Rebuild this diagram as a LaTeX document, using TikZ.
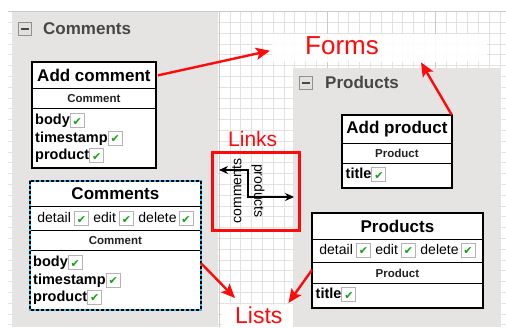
\documentclass[tikz,border=0pt]{standalone}
\usepackage{fontspec}
\setmainfont{Liberation Sans}
\newfontfamily\symfont{DejaVu Sans}
\usetikzlibrary{arrows.meta}

\definecolor{panelgray}{HTML}{E6E3E3}
\definecolor{gridminor}{HTML}{E2E2E2}
\definecolor{gridmajor}{HTML}{CACACA}
\definecolor{boxgray}{HTML}{B4B4B4}
\definecolor{okgreen}{HTML}{13A313}
\definecolor{paneltext}{HTML}{474747}
\definecolor{selcyan}{HTML}{29B6F2}
\definecolor{alertred}{HTML}{FF0A0A}

% checkbox with a green tick
\newcommand\chk{\raisebox{-2.5pt}{\setlength\fboxsep{0pt}\setlength\fboxrule{1pt}%
  \fcolorbox{boxgray}{white}{\makebox[13pt][c]{\rule{0pt}{13pt}%
  \raisebox{2pt}{\textcolor{okgreen}{\symfont\fontsize{11}{11}\selectfont ✔}}}}}}

\newcommand\ttlfont{\fontsize{17}{20}\selectfont\bfseries}
\newcommand\subfont{\fontsize{11.5}{13}\selectfont\bfseries\color[HTML]{222222}}
\newcommand\fldfont{\fontsize{14.5}{17}\selectfont\bfseries}
\newcommand\actfont{\fontsize{14}{17}\selectfont}

\tikzset{
  cell/.style={draw=black, line width=0.8pt, fill=white, inner sep=0pt, anchor=north west},
  frame/.style={draw=black, line width=1.8pt},
  fld/.style={anchor=base west, inner sep=0pt, font=\fldfont},
  act/.style={anchor=base, inner sep=0pt, font=\actfont},
  panel/.style={fill=panelgray, draw=none},
  paneltitle/.style={anchor=base west, inner sep=0pt, text=paneltext,
    font=\fontsize{17}{20}\selectfont\bfseries},
  minusbox/.style={draw=boxgray!80!black, fill=white!88!black, line width=0.8pt,
    minimum size=13pt, inner sep=0pt},
  redarrow/.style={draw=alertred, line width=2.4pt,
    -{Stealth[length=14pt, width=12pt, inset=3pt]}},
  linkarrow/.style={draw=black, line width=1.2pt,
    {Stealth[length=9pt, width=8pt]}-{Stealth[length=9pt, width=8pt]}},
  redlabel/.style={text=alertred, inner sep=0pt, anchor=base west},
}

\begin{document}
\begin{tikzpicture}[x=1pt, y=-1pt]
\useasboundingbox (0,0) rectangle (506,327);
\fill[white] (0,0) rectangle (506,327);

% background grid
\foreach \i in {1,...,46} {
  \draw[gridminor, line width=0.5pt] ({3+\i*10.8},11.5) -- ({3+\i*10.8},327);
}
\foreach \j in {0,...,29} {
  \draw[gridminor, line width=0.5pt] (8,{11.5+\j*10.8}) -- (506,{11.5+\j*10.8});
}
\foreach \i in {10,20,30,40} {
  \draw[gridmajor, line width=0.5pt] ({3+\i*10.8},11.5) -- ({3+\i*10.8},327);
}
\draw[gridmajor, line width=0.5pt] (8,11.5) -- (506,11.5);

% swimlane panels
\fill[panel] (12,12) rectangle (218,327);
\fill[panel] (293,68) rectangle (501,327);

\node[minusbox] (cmin) at (25,29) {};
\draw[paneltext, line width=1.2pt] ([xshift=3pt]cmin.west) -- ([xshift=-3pt]cmin.east);
\node[paneltitle] (cpanel) at (43,34) {Comments};

\node[minusbox] (pmin) at (306,83) {};
\draw[paneltext, line width=1.2pt] ([xshift=3pt]pmin.west) -- ([xshift=-3pt]pmin.east);
\node[paneltitle] (ppanel) at (325,88) {Products};

% labels
\node[fill=white, fill opacity=0.9, minimum width=215pt, minimum height=28pt,
      anchor=north west, inner sep=0pt] (formsbox) at (272,34) {};
\node[redlabel, font=\fontsize{26}{28}\selectfont] (forms) at (305,54) {Forms};

\node[fill=white, minimum width=71pt, minimum height=22pt,
      anchor=north west, inner sep=0pt] (listsbox) at (222,305) {};
\node[redlabel, font=\fontsize{23}{26}\selectfont] (lists) at (235,323) {Lists};

\node[redlabel, font=\fontsize{21}{24}\selectfont] (links) at (228,146) {Links};
\node[draw=alertred, line width=3pt, minimum width=87pt, minimum height=78pt,
      anchor=north west, inner sep=0pt] (linkbox) at (211,151) {};

% link symbol
\coordinate (lkL) at (219,170);
\coordinate (lkR) at (294,197);
\draw[linkarrow] (lkL) -- (248,170) -- (248,197) -- (lkR);
\node[rotate=90, inner sep=0pt, font=\actfont] (lkc) at (237,191) {comments};
\node[rotate=-90, inner sep=0pt, font=\actfont] (lkp) at (258,191) {products};

% Add comment form
\node[cell, minimum width=123pt, minimum height=26pt, font=\ttlfont] (acT) at (32,62) {Add comment};
\node[cell, minimum width=123pt, minimum height=20pt, font=\subfont] (acS) at (32,88) {Comment};
\node[cell, minimum width=123pt, minimum height=59pt] (acF) at (32,108) {};
\draw[frame] (acT.north west) rectangle (acF.south east);
\node[fld] (ac1) at (35,124.5) {body\chk};
\node[fld] (ac2) at (35,142) {timestamp\chk};
\node[fld] (ac3) at (35,159.5) {product\chk};

% Comments list (selected)
\node[cell, minimum width=170pt, minimum height=25pt, font=\ttlfont] (clT) at (30,181) {Comments};
\node[cell, minimum width=170pt, minimum height=24pt] (clA) at (30,206) {};
\node[cell, minimum width=170pt, minimum height=20pt, font=\subfont] (clS) at (30,230) {Comment};
\node[cell, minimum width=170pt, minimum height=59pt] (clF) at (30,250) {};
\draw[selcyan, line width=2pt] (clT.north west) rectangle (clF.south east);
\draw[black, line width=2pt, dash pattern=on 3pt off 2pt] (clT.north west) rectangle (clF.south east);
\node[act] (cla) at (115.5,222.5) {detail\hspace{3pt}\chk\hspace{4.5pt}edit\hspace{3pt}\chk\hspace{4.5pt}delete\hspace{2pt}\chk};
\node[fld] (cl1) at (33,266.5) {body\chk};
\node[fld] (cl2) at (33,284) {timestamp\chk};
\node[fld] (cl3) at (33,301) {product\chk};

% Add product form
\node[cell, minimum width=109pt, minimum height=28pt, font=\ttlfont] (apT) at (342,115) {Add product};
\node[cell, minimum width=109pt, minimum height=20pt, font=\subfont] (apS) at (342,143) {Product};
\node[cell, minimum width=109pt, minimum height=24pt] (apF) at (342,163) {};
\draw[frame] (apT.north west) rectangle (apF.south east);
\node[fld] (ap1) at (345.5,178.5) {title\chk};

% Products list
\node[cell, minimum width=170pt, minimum height=26pt, font=\ttlfont] (plT) at (312,213) {Products};
\node[cell, minimum width=170pt, minimum height=23pt] (plA) at (312,239) {};
\node[cell, minimum width=170pt, minimum height=21pt, font=\subfont] (plS) at (312,262) {Product};
\node[cell, minimum width=170pt, minimum height=24pt] (plF) at (312,283) {};
\draw[frame] (plT.north west) rectangle (plF.south east);
\node[act] (pla) at (397.5,254) {detail\hspace{3pt}\chk\hspace{4.5pt}edit\hspace{3pt}\chk\hspace{4.5pt}delete\hspace{2pt}\chk};
\node[fld] (pl1) at (315.5,298.5) {title\chk};

% red pointers
\draw[redarrow] ([xshift=2pt]acT.east) -- ([shift={(-2pt,-2.5pt)}]formsbox.west);
\draw[redarrow] (apT.north east) -- ([xshift=149pt]formsbox.south west);
\draw[redarrow] ([yshift=-13pt]clF.north east) -- ([shift={(13pt,7pt)}]listsbox.north west);
\draw[redarrow] ([yshift=3pt]plS.west) -- ([shift={(-5pt,2pt)}]listsbox.north east);
\end{tikzpicture}
\end{document}
